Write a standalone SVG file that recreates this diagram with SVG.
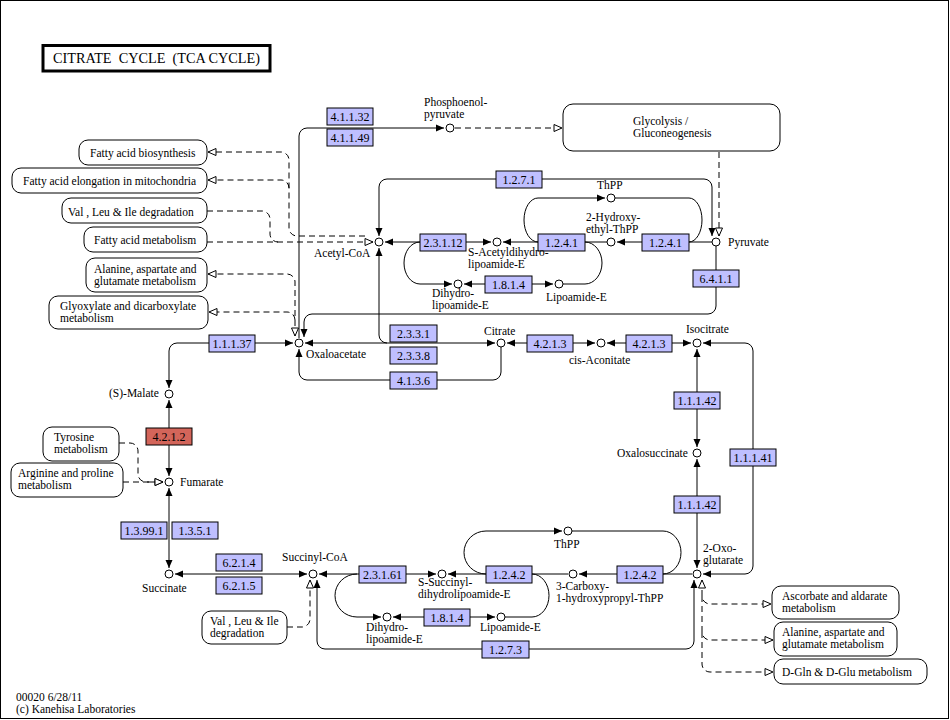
<svg xmlns="http://www.w3.org/2000/svg" width="950" height="720" viewBox="0 0 950 720">
<style>
text{font-family:"Liberation Serif","Times New Roman",serif;font-size:11.5px;fill:#000}
.s{fill:none;stroke:#000;stroke-width:1}
.d{fill:none;stroke:#000;stroke-width:1;stroke-dasharray:6 4}
.cp{fill:#fff;stroke:#000;stroke-width:1}
.ez{fill:#bfbfff;stroke:#000;stroke-width:1}
.ezr{fill:#d3655a;stroke:#000;stroke-width:1}
.mp{fill:#fff;stroke:#000;stroke-width:1}
.et{text-anchor:middle;font-size:12px}
</style>
<defs>
<marker id="fa" viewBox="0 0 8 8" refX="8" refY="4" markerWidth="8" markerHeight="8" markerUnits="userSpaceOnUse" orient="auto-start-reverse"><path d="M0,0.5 L8,4 L0,7.5z" fill="#000"/></marker>
<marker id="oa" viewBox="-1 -1 10 10" refX="8" refY="4" markerWidth="10" markerHeight="10" markerUnits="userSpaceOnUse" orient="auto-start-reverse"><path d="M0,0.5 L8,4 L0,7.5z" fill="#fff" stroke="#000" stroke-width="1"/></marker>
</defs>
<rect x="0.5" y="0.5" width="948" height="718" fill="#fff" stroke="#000"/>
<g id="title">
<rect x="43" y="45.5" width="227" height="25.5" fill="#fff" stroke="#000" stroke-width="3"/>
<text x="53" y="63" style="font-size:15px;white-space:pre" textLength="207" lengthAdjust="spacingAndGlyphs">CITRATE  CYCLE  (TCA CYCLE)</text>
</g>
<g id="connectors">
<path class="s" d="M299,338 V136 A8,8 0 0 1 307,128 H444" marker-end="url(#fa)"/>
<path class="s" d="M712,236 V187 A8,8 0 0 0 704,179 H387 A8,8 0 0 0 379,187 V236" marker-start="url(#fa)" marker-end="url(#fa)"/>
<path class="s" d="M385,242 H491" marker-start="url(#fa)" marker-end="url(#fa)"/>
<path class="s" d="M420,242 A16,21 0 0 0 420,284 H452" marker-end="url(#fa)"/>
<path class="s" d="M464,284 H553" marker-start="url(#fa)" marker-end="url(#fa)"/>
<path class="s" d="M563,284 H585 A17,21 0 0 0 585,242"/>
<path class="s" d="M607,242 H503" marker-end="url(#fa)"/>
<path class="s" d="M712,242 H617" marker-end="url(#fa)"/>
<path class="s" d="M538,242 A14,22 0 0 1 538,198 H605" marker-end="url(#fa)"/>
<path class="s" d="M615,198 H689 A13,22 0 0 1 689,242"/>
<path class="s" d="M716,246 V306 A8,8 0 0 1 708,314 H312 A8,8 0 0 0 304,322 V337" marker-end="url(#fa)"/>
<path class="s" d="M305,343 H495" marker-start="url(#fa)" marker-end="url(#fa)"/>
<path class="s" d="M379,248 V335 A8,8 0 0 0 387,343" marker-start="url(#fa)"/>
<path class="s" d="M299,349 V372 A8,8 0 0 0 307,380 H493 A8,8 0 0 0 501,372 V347" marker-start="url(#fa)"/>
<path class="s" d="M507,343 H595" marker-start="url(#fa)" marker-end="url(#fa)"/>
<path class="s" d="M607,343 H691" marker-start="url(#fa)" marker-end="url(#fa)"/>
<path class="s" d="M703,343 H745 A8,8 0 0 1 753,351 V566 A8,8 0 0 1 745,574 H703" marker-start="url(#fa)" marker-end="url(#fa)"/>
<path class="s" d="M697,349 V447" marker-start="url(#fa)" marker-end="url(#fa)"/>
<path class="s" d="M697,459 V568" marker-start="url(#fa)" marker-end="url(#fa)"/>
<path class="s" d="M692,574 H579" marker-end="url(#fa)"/>
<path class="s" d="M572,531 H663 A18,21.5 0 0 1 663,574"/>
<path class="s" d="M486,574 A22,21.5 0 0 1 486,531 H562" marker-end="url(#fa)"/>
<path class="s" d="M568,574 H448" marker-end="url(#fa)"/>
<path class="s" d="M319,574 H436" marker-start="url(#fa)" marker-end="url(#fa)"/>
<path class="s" d="M357,574 A22,21.5 0 0 0 357,617 H381" marker-end="url(#fa)"/>
<path class="s" d="M393,617 H495" marker-start="url(#fa)" marker-end="url(#fa)"/>
<path class="s" d="M505,617 H532 A17,21.5 0 0 0 532,574"/>
<path class="s" d="M694,580 V641 A8,8 0 0 1 686,649 H325 A8,8 0 0 1 317,641 V580" marker-start="url(#fa)" marker-end="url(#fa)"/>
<path class="s" d="M175,574 H307" marker-start="url(#fa)" marker-end="url(#fa)"/>
<path class="s" d="M293,343 H177 A8,8 0 0 0 169,351 V388" marker-start="url(#fa)" marker-end="url(#fa)"/>
<path class="s" d="M169,400 V476" marker-start="url(#fa)" marker-end="url(#fa)"/>
<path class="s" d="M169,488 V568" marker-start="url(#fa)" marker-end="url(#fa)"/>
<path class="d" d="M455,128 H562" marker-end="url(#oa)"/>
<path class="d" d="M719,152 V236" marker-end="url(#oa)"/>
<path class="d" d="M365,236 H297 A8,8 0 0 1 289,228 V160 A8,8 0 0 0 281,152 H208" marker-end="url(#oa)"/>
<path class="d" d="M289,188 A8,8 0 0 0 281,180 H208" marker-end="url(#oa)"/>
<path class="d" d="M207,211 H262 A8,8 0 0 1 270,219 V234 A8,8 0 0 0 278,242"/>
<path class="d" d="M207,242 H373" marker-end="url(#oa)"/>
<path class="d" d="M295,336 V282 A8,8 0 0 0 287,274 H208" marker-start="url(#oa)" marker-end="url(#oa)"/>
<path class="d" d="M295,320 A8,8 0 0 0 287,312 H209" marker-end="url(#oa)"/>
<path class="d" d="M119,443 H130 A8,8 0 0 1 138,451 V474 A8,8 0 0 0 146,482 H163" marker-end="url(#oa)"/>
<path class="d" d="M123,482 H163" marker-end="url(#oa)"/>
<path class="d" d="M287,627 H302 A8,8 0 0 0 310,619 V580" marker-end="url(#oa)"/>
<path class="d" d="M702,580 V596 A8,8 0 0 0 710,604 H771" marker-start="url(#oa)" marker-end="url(#oa)"/>
<path class="d" d="M702,596 V632 A8,8 0 0 0 710,640 H773" marker-end="url(#oa)"/>
<path class="d" d="M702,632 V664 A8,8 0 0 0 710,672 H773" marker-end="url(#oa)"/>
</g>
<g id="ec4.1.1.32"><rect class="ez" x="327" y="108" width="46" height="17"/><text class="et" x="350" y="121">4.1.1.32</text></g>
<g id="ec4.1.1.49"><rect class="ez" x="327" y="129" width="46" height="17"/><text class="et" x="350" y="142">4.1.1.49</text></g>
<g id="ec1.2.7.1"><rect class="ez" x="496" y="171" width="46" height="17"/><text class="et" x="519" y="184">1.2.7.1</text></g>
<g id="ec2.3.1.12"><rect class="ez" x="420" y="234" width="46" height="17"/><text class="et" x="443" y="247">2.3.1.12</text></g>
<g id="ec1.2.4.1a"><rect class="ez" x="538" y="234" width="47" height="17"/><text class="et" x="561.5" y="247">1.2.4.1</text></g>
<g id="ec1.2.4.1b"><rect class="ez" x="642" y="234" width="47" height="17"/><text class="et" x="665.5" y="247">1.2.4.1</text></g>
<g id="ec1.8.1.4a"><rect class="ez" x="485" y="276" width="47" height="17"/><text class="et" x="508.5" y="289">1.8.1.4</text></g>
<g id="ec6.4.1.1"><rect class="ez" x="693" y="270" width="46" height="17"/><text class="et" x="716" y="283">6.4.1.1</text></g>
<g id="ec2.3.3.1"><rect class="ez" x="390" y="325" width="47" height="17"/><text class="et" x="413.5" y="338">2.3.3.1</text></g>
<g id="ec2.3.3.8"><rect class="ez" x="390" y="347" width="47" height="17"/><text class="et" x="413.5" y="360">2.3.3.8</text></g>
<g id="ec4.1.3.6"><rect class="ez" x="390" y="372" width="47" height="17"/><text class="et" x="413.5" y="385">4.1.3.6</text></g>
<g id="ec1.1.1.37"><rect class="ez" x="209" y="335" width="46" height="17"/><text class="et" x="232" y="348">1.1.1.37</text></g>
<g id="ec4.2.1.3a"><rect class="ez" x="527" y="335" width="46" height="17"/><text class="et" x="550" y="348">4.2.1.3</text></g>
<g id="ec4.2.1.3b"><rect class="ez" x="626" y="335" width="46" height="17"/><text class="et" x="649" y="348">4.2.1.3</text></g>
<g id="ec1.1.1.42a"><rect class="ez" x="674" y="392" width="46" height="17"/><text class="et" x="697" y="405">1.1.1.42</text></g>
<g id="ec1.1.1.41"><rect class="ez" x="730" y="449" width="46" height="17"/><text class="et" x="753" y="462">1.1.1.41</text></g>
<g id="ec1.1.1.42b"><rect class="ez" x="674" y="496" width="46" height="17"/><text class="et" x="697" y="509">1.1.1.42</text></g>
<g id="ec4.2.1.2"><rect class="ezr" x="146" y="428" width="46" height="17"/><text class="et" x="169" y="441">4.2.1.2</text></g>
<g id="ec1.3.99.1"><rect class="ez" x="121" y="522" width="46" height="17"/><text class="et" x="144" y="535">1.3.99.1</text></g>
<g id="ec1.3.5.1"><rect class="ez" x="172" y="522" width="46" height="17"/><text class="et" x="195" y="535">1.3.5.1</text></g>
<g id="ec6.2.1.4"><rect class="ez" x="216" y="554" width="46" height="17"/><text class="et" x="239" y="567">6.2.1.4</text></g>
<g id="ec6.2.1.5"><rect class="ez" x="216" y="577" width="46" height="17"/><text class="et" x="239" y="590">6.2.1.5</text></g>
<g id="ec2.3.1.61"><rect class="ez" x="359" y="566" width="47" height="17"/><text class="et" x="382.5" y="579">2.3.1.61</text></g>
<g id="ec1.2.4.2a"><rect class="ez" x="486" y="566" width="46" height="17"/><text class="et" x="509" y="579">1.2.4.2</text></g>
<g id="ec1.2.4.2b"><rect class="ez" x="617" y="566" width="46" height="17"/><text class="et" x="640" y="579">1.2.4.2</text></g>
<g id="ec1.8.1.4b"><rect class="ez" x="424" y="609" width="46" height="17"/><text class="et" x="447" y="622">1.8.1.4</text></g>
<g id="ec1.2.7.3"><rect class="ez" x="482" y="641" width="47" height="17"/><text class="et" x="505.5" y="654">1.2.7.3</text></g>
<g id="pep"><circle class="cp" cx="450" cy="128" r="4"/><text x="424" y="106">Phosphoenol-</text><text x="424" y="118">pyruvate</text></g>
<g id="acetylcoa"><circle class="cp" cx="379" cy="242" r="4"/><text x="314" y="257">Acetyl-CoA</text></g>
<g id="pyruvate"><circle class="cp" cx="716" cy="242" r="4"/><text x="728" y="246">Pyruvate</text></g>
<g id="thpp1"><circle class="cp" cx="611" cy="198" r="4"/><text x="597" y="189">ThPP</text></g>
<g id="hethpp"><circle class="cp" cx="611" cy="242" r="4"/><text x="586" y="221">2-Hydroxy-</text><text x="586" y="233">ethyl-ThPP</text></g>
<g id="sacetyl"><circle class="cp" cx="497" cy="242" r="4"/><text x="468" y="256">S-Acetyldihydro-</text><text x="468" y="268">lipoamide-E</text></g>
<g id="dihydro1"><circle class="cp" cx="458" cy="284" r="4"/><text x="432" y="297">Dihydro-</text><text x="432" y="309">lipoamide-E</text></g>
<g id="lipo1"><circle class="cp" cx="559" cy="284" r="4"/><text x="546" y="301">Lipoamide-E</text></g>
<g id="oxaloacetate"><circle class="cp" cx="299" cy="343" r="4"/><text x="306" y="358">Oxaloacetate</text></g>
<g id="citrate"><circle class="cp" cx="501" cy="343" r="4"/><text x="484" y="335">Citrate</text></g>
<g id="cisaconitate"><circle class="cp" cx="601" cy="343" r="4"/><text x="569" y="364">cis-Aconitate</text></g>
<g id="isocitrate"><circle class="cp" cx="697" cy="343" r="4"/><text x="686" y="333">Isocitrate</text></g>
<g id="oxalosuccinate"><circle class="cp" cx="697" cy="453" r="4"/><text x="617" y="457">Oxalosuccinate</text></g>
<g id="oxoglutarate"><circle class="cp" cx="697" cy="574" r="4"/><text x="703" y="552">2-Oxo-</text><text x="703" y="564">glutarate</text></g>
<g id="thpp2"><circle class="cp" cx="568" cy="531" r="4"/><text x="554" y="548">ThPP</text></g>
<g id="carboxy"><circle class="cp" cx="573" cy="574" r="4"/><text x="556" y="590">3-Carboxy-</text><text x="556" y="602">1-hydroxypropyl-ThPP</text></g>
<g id="ssuccinyl"><circle class="cp" cx="442" cy="574" r="4"/><text x="418" y="586">S-Succinyl-</text><text x="418" y="598">dihydrolipoamide-E</text></g>
<g id="dihydro2"><circle class="cp" cx="387" cy="617" r="4"/><text x="366" y="631">Dihydro-</text><text x="366" y="643">lipoamide-E</text></g>
<g id="lipo2"><circle class="cp" cx="501" cy="617" r="4"/><text x="480" y="631">Lipoamide-E</text></g>
<g id="succinylcoa"><circle class="cp" cx="313" cy="574" r="4"/><text x="282" y="561">Succinyl-CoA</text></g>
<g id="succinate"><circle class="cp" cx="169" cy="574" r="4"/><text x="142" y="592">Succinate</text></g>
<g id="malate"><circle class="cp" cx="169" cy="394" r="4"/><text x="109" y="397">(S)-Malate</text></g>
<g id="fumarate"><circle class="cp" cx="169" cy="482" r="4"/><text x="180" y="486">Fumarate</text></g>
<g id="map-fab"><rect class="mp" x="79" y="140" width="128" height="25" rx="9"/><text x="90" y="157">Fatty acid biosynthesis</text></g>
<g id="map-fae"><rect class="mp" x="12" y="168" width="195" height="25" rx="9"/><text x="23" y="185">Fatty acid elongation in mitochondria</text></g>
<g id="map-vli1"><rect class="mp" x="62" y="198" width="145" height="25" rx="9"/><text x="68" y="216">Val , Leu &amp; Ile degradation</text></g>
<g id="map-fam"><rect class="mp" x="84" y="227" width="123" height="25" rx="9"/><text x="94" y="244">Fatty acid metabolism</text></g>
<g id="map-ala1"><rect class="mp" x="86" y="258" width="121" height="34" rx="9"/><text x="94" y="273">Alanine, aspartate and</text><text x="94" y="285">glutamate metabolism</text></g>
<g id="map-gly"><rect class="mp" x="49" y="296" width="159" height="33" rx="9"/><text x="60" y="310">Glyoxylate and dicarboxylate</text><text x="60" y="322">metabolism</text></g>
<g id="map-tyr"><rect class="mp" x="43" y="427" width="76" height="34" rx="9"/><text x="54" y="441">Tyrosine</text><text x="54" y="453">metabolism</text></g>
<g id="map-arg"><rect class="mp" x="11" y="463" width="112" height="34" rx="9"/><text x="18" y="477">Arginine and proline</text><text x="18" y="489">metabolism</text></g>
<g id="map-vli2"><rect class="mp" x="202" y="611" width="85" height="33" rx="9"/><text x="210" y="625">Val , Leu &amp; Ile</text><text x="210" y="637">degradation</text></g>
<g id="map-glycolysis"><rect class="mp" x="563" y="104" width="217" height="47" rx="10"/><text x="633" y="125">Glycolysis /</text><text x="633" y="137">Gluconeogenesis</text></g>
<g id="map-asc"><rect class="mp" x="772" y="586" width="127" height="33" rx="9"/><text x="782" y="600">Ascorbate and aldarate</text><text x="782" y="612">metabolism</text></g>
<g id="map-ala2"><rect class="mp" x="774" y="622" width="123" height="34" rx="9"/><text x="782" y="636">Alanine, aspartate and</text><text x="782" y="648">glutamate metabolism</text></g>
<g id="map-dgln"><rect class="mp" x="774" y="659" width="153" height="25" rx="9"/><text x="782" y="676">D-Gln &amp; D-Glu metabolism</text></g>
<g id="footer"><text x="16" y="701">00020 6/28/11</text><text x="16" y="713">(c) Kanehisa Laboratories</text></g>
</svg>
